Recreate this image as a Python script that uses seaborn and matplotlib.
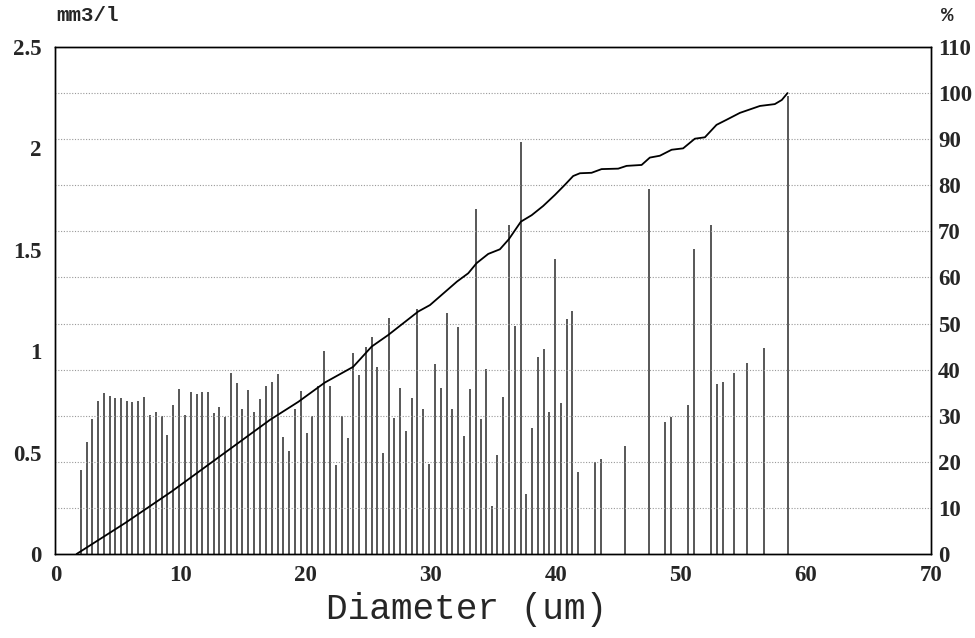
import numpy as np
import pandas as pd
import seaborn as sns
import matplotlib
matplotlib.use("Agg")
import matplotlib.pyplot as plt

# stem positions (um) and volumes (mm3/l)
diam = [2.01, 2.49, 2.94, 3.42, 3.90, 4.33, 4.78, 5.24, 5.69, 6.14, 6.62, 7.07,
        7.55, 8.01, 8.49, 8.94, 9.42, 9.90, 10.35, 10.83, 11.29, 11.74, 12.19,
        12.65, 13.09, 13.55, 14.01, 14.48, 14.93, 15.41, 15.87, 16.32, 16.80,
        17.28, 17.76, 18.21, 18.67, 19.15, 19.60, 20.08, 20.53, 21.01, 21.49,
        21.97, 22.42, 22.88, 23.36, 23.81, 24.28, 24.80, 25.28, 25.72, 26.16,
        26.64, 27.08, 27.54, 27.99, 28.47, 28.92, 29.40, 29.86, 30.31, 30.79,
        31.27, 31.70, 32.20, 32.63, 33.11, 33.61, 33.99, 34.44, 34.87, 35.32,
        35.80, 36.28, 36.73, 37.21, 37.61, 38.07, 38.55, 39.03, 39.47, 39.95,
        40.41, 40.86, 41.31, 41.74, 43.13, 43.61, 45.50, 47.44, 48.70, 49.18,
        50.54, 51.04, 52.40, 52.85, 53.33, 54.26, 55.25, 56.61, 58.53]
volume = [0.414, 0.554, 0.664, 0.754, 0.792, 0.779, 0.768, 0.768, 0.753, 0.748,
          0.754, 0.773, 0.685, 0.699, 0.680, 0.587, 0.735, 0.814, 0.685, 0.800,
          0.787, 0.800, 0.800, 0.694, 0.723, 0.674, 0.891, 0.842, 0.715, 0.809,
          0.702, 0.763, 0.830, 0.847, 0.886, 0.578, 0.509, 0.715, 0.804, 0.595,
          0.682, 0.828, 1.002, 0.830, 0.439, 0.682, 0.573, 0.990, 0.883, 1.022,
          1.071, 0.921, 0.500, 1.162, 0.669, 0.820, 0.608, 0.768, 1.210, 0.714,
          0.444, 0.937, 0.820, 1.187, 0.714, 1.121, 0.582, 0.812, 1.701, 0.664,
          0.911, 0.237, 0.487, 0.773, 1.622, 1.124, 2.033, 0.296, 0.620, 0.973,
          1.011, 0.699, 1.453, 0.743, 1.159, 1.197, 0.406, 0.455, 0.467, 0.532,
          1.798, 0.652, 0.674, 0.733, 1.502, 1.621, 0.837, 0.847, 0.894, 0.940,
          1.014, 2.26]

# cumulative curve (%)
cum_x = [1.69, 5.56, 9.31, 17.15, 19.41, 21.54, 23.80, 25.28, 26.60, 29.00,
         29.94, 32.10, 33.00, 33.67, 34.60, 35.53, 36.25, 37.21, 38.07, 38.99,
         39.93, 40.73, 41.39, 41.93, 42.86, 43.66, 44.99, 45.66, 46.86, 47.52,
         48.32, 49.26, 50.18, 51.12, 51.92, 52.85, 53.65, 54.72, 56.32, 57.51,
         58.07, 58.53]
cum_pct = [0, 6.7, 13.6, 29.1, 33.0, 37.2, 40.6, 45.0, 47.5, 52.6,
           54.0, 59.1, 60.9, 63.1, 65.1, 66.1, 68.3, 72.1, 73.5, 75.5,
           77.9, 80.1, 82.0, 82.6, 82.7, 83.5, 83.6, 84.2, 84.4, 86.0,
           86.4, 87.7, 88.0, 90.1, 90.4, 93.1, 94.2, 95.7, 97.2, 97.6,
           98.5, 100.0]

left_ticks = [0, 0.5, 1, 1.5, 2, 2.5]
left_labels = ["0", "0.5", "1", "1.5", "2", "2.5"]
right_ticks = list(range(0, 111, 10))
x_ticks = list(range(0, 71, 10))

sns.set_theme(style="white")
plt.rcParams["font.family"] = ["Liberation Serif", "DejaVu Serif"]

stems = pd.DataFrame({"diam": diam, "volume": volume})
curve = pd.DataFrame({"diam": cum_x, "pct": cum_pct})

fig = plt.figure(figsize=(9.75, 6.38), dpi=100)
ax = fig.add_axes([0.0569, 0.1317, 0.898, 0.7947])
ax2 = ax.twinx()

ax.vlines(stems["diam"], 0, stems["volume"], color="#2a2a2a", linewidth=1.1)
sns.lineplot(data=curve, x="diam", y="pct", ax=ax2, color="black", linewidth=1.3)

ax.set_xlim(0, 70)
ax.set_ylim(0, 2.5)
ax2.set_ylim(0, 110)
ax.set_xticks(x_ticks)
ax.set_xticklabels([str(t) for t in x_ticks])
ax.set_yticks(left_ticks)
ax.set_yticklabels(left_labels)
ax2.set_yticks(right_ticks)
ax2.set_yticklabels([str(t) for t in right_ticks])

for t in right_ticks[1:-1]:
    ax2.axhline(t, color="#999999", linestyle=(0, (1, 1.5)), linewidth=0.8, zorder=0)

ax.tick_params(axis="both", length=0, labelsize=16.5)
ax.tick_params(axis="y", pad=10)
ax.tick_params(axis="x", pad=8)
ax2.tick_params(axis="y", length=0, labelsize=16.5, pad=5)
for lab in ax.get_xticklabels() + ax.get_yticklabels() + ax2.get_yticklabels():
    lab.set_fontweight("bold")
ax.set_xlabel("")
ax.set_ylabel("")
ax2.set_xlabel("")
ax2.set_ylabel("")

for a in (ax, ax2):
    for s in a.spines.values():
        s.set_color("black")
        s.set_linewidth(1.0)

fig.text(0.058, 0.976, "mm3/l", fontsize=15, family="Liberation Mono",
         fontweight="bold", ha="left", va="center")
fig.text(0.972, 0.976, "%", fontsize=15, family="Liberation Mono",
         fontweight="bold", ha="center", va="center")
fig.text(0.479, 0.044, "Diameter (um)", fontsize=26, family="Liberation Mono",
         ha="center", va="center")

fig.savefig("out.png", dpi=100, facecolor="white")
